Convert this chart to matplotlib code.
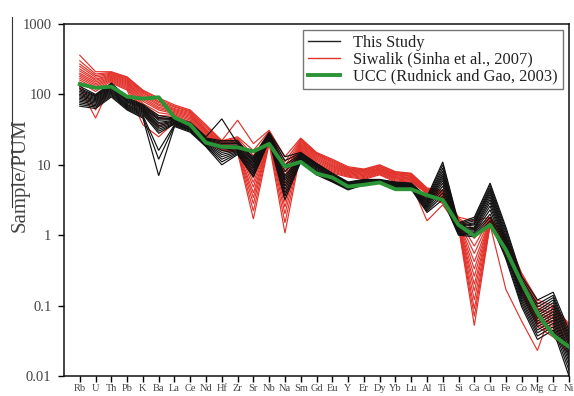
import numpy as np
import matplotlib
matplotlib.use("Agg")
import matplotlib.pyplot as plt
from matplotlib.ticker import FixedLocator, NullLocator, FixedFormatter
from matplotlib.lines import Line2D

elements = ["Rb", "U", "Th", "Pb", "K", "Ba", "La", "Ce", "Nd", "Hf", "Zr", "Sr",
            "Nb", "Na", "Sm", "Gd", "Eu", "Y", "Er", "Dy", "Yb", "Lu", "Al", "Ti",
            "Si", "Ca", "Cu", "Fe", "Co", "Mg", "Cr", "Ni"]

ucc = [140, 124, 129, 93, 87, 91, 47, 37, 20.6, 18, 17.7, 15.5, 19.8, 9.4, 11,
       7.5, 6.6, 4.9, 5.2, 5.6, 4.5, 4.5, 3.7, 3.16, 1.4, 0.98, 1.4, 0.62, 0.21,
       0.078, 0.038, 0.026]

# This Study: one row per element, one column per sample
this_study_by_element = [
    [68, 72, 76, 80, 84, 88, 92, 96, 100, 105, 110, 116, 122, 130],
    [63, 66, 69, 72, 75, 78, 81, 84, 87, 90, 93, 95, 97, 100],
    [92, 96, 100, 104, 108, 112, 116, 120, 124, 128, 132, 136, 140, 145],
    [60, 62, 64, 66, 68, 70, 72, 75, 78, 80, 82, 85, 87, 90],
    [46, 48, 50, 52, 54, 56, 58, 60, 62, 64, 66, 68, 70, 72],
    [7, 12, 16, 28, 30, 32, 34, 36, 38, 40, 43, 45, 47, 50],
    [35, 36, 37, 38, 38.5, 39, 40, 41, 42, 43, 44, 44.5, 45, 46],
    [29, 30, 31, 31.5, 32, 33, 34, 35, 36, 36.5, 37, 38, 39, 40],
    [18, 18.5, 19, 19.5, 20, 20.5, 21, 21.5, 22, 22.5, 23, 23.5, 24, 25],
    [10, 11, 12, 13, 14, 15, 16, 17, 18, 19, 20, 21, 22, 45],
    [14, 14.5, 15, 15.5, 16, 16.5, 17, 17.5, 18, 19, 20, 21, 22, 20],
    [6.7, 7, 7.5, 8, 8.5, 9, 9.5, 10, 10.5, 11, 11.5, 12, 12.5, 13],
    [22, 22.5, 23, 23.5, 24, 24.5, 25, 25.5, 26, 26.5, 27, 27.5, 28, 29],
    [3.2, 3.6, 4.0, 4.5, 5.0, 5.5, 6.0, 6.5, 7.0, 8.0, 9.0, 10, 11.5, 13],
    [11, 11.3, 11.6, 11.9, 12.2, 12.5, 12.8, 13.1, 13.4, 13.7, 14, 14.3, 14.6, 15],
    [7.2, 7.4, 7.6, 7.8, 8.0, 8.3, 8.6, 8.9, 9.2, 9.5, 9.8, 10.1, 10.3, 10.5],
    [5.7, 5.8, 5.9, 6.0, 6.15, 6.3, 6.45, 6.6, 6.75, 6.9, 7.05, 7.2, 7.4, 7.6],
    [4.4, 4.5, 4.6, 4.7, 4.8, 4.9, 5.0, 5.1, 5.2, 5.3, 5.4, 5.5, 5.6, 5.7],
    [5.2, 5.25, 5.3, 5.4, 5.45, 5.5, 5.6, 5.65, 5.7, 5.8, 5.9, 6.0, 6.1, 6.2],
    [5.5, 5.55, 5.6, 5.65, 5.7, 5.75, 5.8, 5.85, 5.9, 5.95, 6.0, 6.05, 6.1, 6.2],
    [4.7, 4.8, 4.85, 4.9, 5.0, 5.05, 5.1, 5.2, 5.3, 5.35, 5.4, 5.5, 5.6, 5.7],
    [4.5, 4.6, 4.65, 4.7, 4.8, 4.85, 4.9, 5.0, 5.1, 5.15, 5.2, 5.3, 5.4, 5.5],
    [2.1, 2.2, 2.3, 2.4, 2.5, 2.6, 2.7, 2.8, 2.9, 3.0, 3.1, 3.2, 3.35, 3.5],
    [3.2, 3.6, 4.0, 4.5, 5.0, 5.5, 6.0, 6.5, 7.0, 7.5, 8.2, 9.0, 10, 11],
    [1.0, 1.03, 1.06, 1.1, 1.13, 1.17, 1.2, 1.25, 1.3, 1.33, 1.37, 1.4, 1.45, 1.5],
    [0.95, 1.0, 1.05, 1.1, 1.15, 1.2, 1.25, 1.3, 1.4, 1.45, 1.5, 1.6, 1.7, 1.8],
    [1.6, 1.8, 2.0, 2.3, 2.6, 2.9, 3.2, 3.5, 3.8, 4.1, 4.4, 4.7, 5.1, 5.5],
    [0.46, 0.5, 0.55, 0.6, 0.65, 0.7, 0.75, 0.8, 0.86, 0.92, 1.0, 1.1, 1.2, 1.3],
    [0.096, 0.105, 0.115, 0.125, 0.135, 0.145, 0.155, 0.165, 0.175, 0.19, 0.2, 0.22, 0.24, 0.26],
    [0.033, 0.037, 0.041, 0.045, 0.05, 0.055, 0.06, 0.066, 0.072, 0.078, 0.085, 0.095, 0.105, 0.12],
    [0.045, 0.05, 0.056, 0.062, 0.068, 0.075, 0.082, 0.09, 0.1, 0.11, 0.12, 0.13, 0.14, 0.155],
    [0.01, 0.012, 0.014, 0.016, 0.018, 0.02, 0.022, 0.024, 0.027, 0.03, 0.033, 0.036, 0.04, 0.045],
]

# Siwalik (Sinha et al., 2007): one row per element, one column per sample
siwalik_by_element = [
    [125, 140, 150, 160, 170, 180, 190, 200, 215, 230, 250, 270, 300, 360],
    [46, 60, 110, 120, 128, 135, 142, 150, 158, 165, 175, 185, 195, 210],
    [145, 150, 155, 160, 165, 170, 175, 180, 185, 190, 195, 200, 205, 210],
    [115, 120, 125, 130, 135, 140, 145, 150, 155, 160, 165, 170, 175, 177],
    [37, 56, 62, 68, 74, 80, 85, 90, 95, 100, 105, 108, 112, 115],
    [25, 35, 45, 50, 55, 60, 63, 66, 70, 73, 77, 80, 85, 89],
    [40, 43, 46, 49, 51, 53, 55, 57, 59, 61, 63, 66, 68, 71],
    [35, 37, 39, 41, 43, 45, 47, 49, 51, 53, 55, 57, 58, 60],
    [22, 23, 24, 25, 26, 27, 28, 29, 30, 31, 32, 34, 35, 37],
    [16, 16.5, 17, 17.5, 18, 18.5, 19, 19.5, 20, 20.5, 21, 21.5, 22, 22],
    [15, 15.5, 16, 16.5, 17, 18, 19, 20, 21, 22, 23, 24, 25, 43],
    [1.7, 2.2, 2.8, 3.4, 4.0, 4.8, 5.6, 6.5, 7.5, 9, 11, 13.5, 16, 20],
    [20, 21, 22, 22.5, 23, 23.5, 24, 25, 26, 27, 28, 29, 30, 31],
    [1.07, 1.5, 2.0, 2.5, 3.0, 3.6, 4.3, 5.0, 6.0, 7.0, 8.0, 9.5, 11, 13],
    [15, 15.7, 16.4, 17, 17.6, 18.2, 18.8, 19.4, 20, 20.8, 21.6, 22.4, 23.2, 24],
    [9.3, 9.7, 10.1, 10.5, 11, 11.5, 12, 12.5, 13, 13.5, 14, 14.3, 14.6, 15],
    [7.6, 7.9, 8.2, 8.5, 8.8, 9.1, 9.4, 9.7, 10, 10.4, 10.8, 11.2, 11.6, 12],
    [6.7, 6.9, 7.1, 7.3, 7.5, 7.7, 7.9, 8.1, 8.3, 8.5, 8.7, 8.9, 9.1, 9.4],
    [6.2, 6.4, 6.6, 6.8, 7.0, 7.2, 7.4, 7.6, 7.8, 8.0, 8.2, 8.4, 8.55, 8.7],
    [7.2, 7.4, 7.6, 7.8, 8.0, 8.2, 8.4, 8.6, 8.8, 9.0, 9.3, 9.5, 9.8, 10],
    [5.7, 5.9, 6.1, 6.3, 6.5, 6.6, 6.8, 7.0, 7.2, 7.3, 7.5, 7.7, 7.85, 8],
    [5.5, 5.7, 5.85, 6.0, 6.15, 6.3, 6.45, 6.6, 6.8, 6.95, 7.1, 7.3, 7.45, 7.6],
    [1.6, 3.9, 3.95, 4.0, 4.05, 4.1, 4.15, 4.2, 4.3, 4.35, 4.4, 4.5, 4.6, 4.7],
    [2.7, 2.8, 2.9, 3.0, 3.1, 3.2, 3.3, 3.4, 3.55, 3.7, 3.85, 4.0, 4.15, 4.3],
    [1.3, 1.33, 1.37, 1.4, 1.43, 1.47, 1.5, 1.55, 1.6, 1.63, 1.67, 1.7, 1.75, 1.8],
    [0.052, 0.07, 0.09, 0.12, 0.16, 0.2, 0.26, 0.33, 0.42, 0.55, 0.7, 0.9, 1.2, 1.6],
    [1.4, 1.43, 1.46, 1.5, 1.53, 1.56, 1.6, 1.63, 1.66, 1.7, 1.73, 1.76, 1.78, 1.8],
    [0.17, 0.5, 0.53, 0.56, 0.6, 0.63, 0.67, 0.7, 0.74, 0.78, 0.82, 0.86, 0.9, 0.95],
    [0.06, 0.15, 0.16, 0.17, 0.18, 0.19, 0.2, 0.21, 0.22, 0.23, 0.245, 0.26, 0.275, 0.29],
    [0.023, 0.05, 0.054, 0.058, 0.062, 0.066, 0.07, 0.075, 0.08, 0.086, 0.092, 0.1, 0.11, 0.12],
    [0.1, 0.036, 0.04, 0.044, 0.048, 0.052, 0.056, 0.06, 0.065, 0.07, 0.075, 0.082, 0.09, 0.1],
    [0.03, 0.021, 0.023, 0.025, 0.027, 0.03, 0.033, 0.036, 0.04, 0.043, 0.046, 0.05, 0.053, 0.055],
]

y_ticks = [0.01, 0.1, 1, 10, 100, 1000]
y_tick_labels = ["0.01", "0.1", "1", "10", "100", "1000"]

plt.rcParams["font.family"] = ["Liberation Serif", "DejaVu Serif"]

fig = plt.figure(figsize=(5.74, 3.96), dpi=100)
ax = fig.add_axes([64 / 574, 1 - 376 / 396, (569 - 64) / 574, (376 - 24) / 396])

x = np.arange(len(elements))
study = np.array(this_study_by_element).T
siwalik = np.array(siwalik_by_element).T

red = "#e2332b"
for row in siwalik:
    ax.plot(x, row, color=red, lw=0.85, solid_joinstyle="miter", zorder=2)
for row in study:
    ax.plot(x, row, color="#111111", lw=0.85, solid_joinstyle="miter", zorder=3)
ax.plot(x, ucc, color="#2b9436", lw=2.8, zorder=4)

ax.set_yscale("log")
ax.set_ylim(0.01, 1000)
ax.set_xlim(-1, len(elements) - 1)
ax.yaxis.set_major_locator(FixedLocator(y_ticks))
ax.yaxis.set_major_formatter(FixedFormatter(y_tick_labels))
ax.yaxis.set_minor_locator(NullLocator())
ax.set_xticks(x)
ax.set_xticklabels(elements)
ax.tick_params(axis="x", direction="out", length=4, width=1.0, pad=2,
               labelsize=7.5, labelcolor="#444444")
ax.tick_params(axis="y", direction="out", length=4, width=1.0, pad=5,
               labelsize=10.5, labelcolor="#444444")
for s in ax.spines.values():
    s.set_linewidth(1.1)
    s.set_color("#111111")

fig.text(20.5 / 574, 1 - 175 / 396, "Sample/PUM", rotation=90, ha="center",
         va="center", fontsize=15, color="#444444")
fig.add_artist(Line2D([12.3 / 574, 12.3 / 574], [1 - 17 / 396, 1 - 207 / 396],
                      color="#333333", lw=0.8))

handles = [Line2D([], [], color="#222222", lw=1.0),
           Line2D([], [], color=red, lw=1.0),
           Line2D([], [], color="#2b9436", lw=2.8)]
labels = ["This Study", "Siwalik (Sinha et al., 2007)", "UCC (Rudnick and Gao, 2003)"]
leg = fig.legend(handles, labels, loc="upper right",
                 bbox_to_anchor=(563 / 574, 1 - 30 / 396), fontsize=11.8,
                 frameon=True, fancybox=False, shadow=False, framealpha=1,
                 borderpad=0.3, labelspacing=0.05, handlelength=2.0,
                 handletextpad=0.8, borderaxespad=0)
leg.get_frame().set_edgecolor("#777777")
leg.get_frame().set_linewidth(1.0)
for t in leg.get_texts():
    t.set_color("#222222")

fig.savefig("out.png", dpi=100)
